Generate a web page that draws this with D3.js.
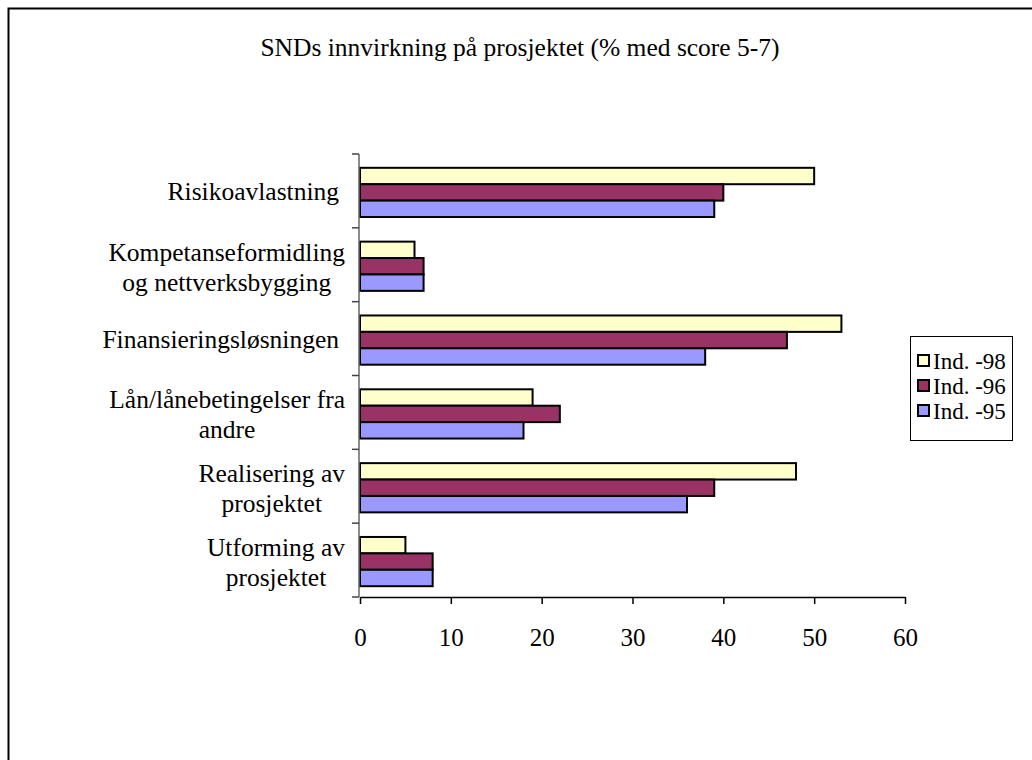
<!DOCTYPE html>
<html>
<head>
<meta charset="utf-8">
<script src="https://cdn.jsdelivr.net/npm/d3@7"></script>
<style>
  body { margin: 0; background: #fff; }
  svg { display: block; font-family: "Liberation Serif", "Times New Roman", serif; }
</style>
</head>
<body>
<div id="chart"></div>
<script>
// categories top to bottom, each label split in lines
const categories = [
  ["Risikoavlastning"],
  ["Kompetanseformidling", "og nettverksbygging"],
  ["Finansieringsløsningen"],
  ["Lån/lånebetingelser fra", "andre"],
  ["Realisering av", "prosjektet"],
  ["Utforming av", "prosjektet"]
];
const seriesNames = ["Ind. -98", "Ind. -96", "Ind. -95"];
const ind98 = [50, 6, 53, 19, 48, 5];
const ind96 = [40, 7, 47, 22, 39, 8];
const ind95 = [39, 7, 38, 18, 36, 8];
const xTicks = [0, 10, 20, 30, 40, 50, 60];
const colors = ["#FFFFCC", "#993366", "#9999FF"];

const width = 1032, height = 760;
const serif = "Liberation Serif, Times New Roman, serif";
const svg = d3.select("#chart").append("svg")
  .attr("width", width)
  .attr("height", height);

// outer frame (top + left edges visible)
svg.append("path")
  .attr("d", "M8.5,760 V8.5 H1032")
  .attr("fill", "none")
  .attr("stroke", "#000")
  .attr("stroke-width", 2);

svg.append("text")
  .attr("x", 520).attr("y", 56)
  .attr("text-anchor", "middle")
  .attr("font-size", 25.5)
  .text("SNDs innvirkning på prosjektet (% med score 5-7)");

const keys = categories.map((c, i) => i);
const x = d3.scaleLinear().domain([0, 60]).range([360, 905]);
const y0 = d3.scaleBand().domain(keys).range([154, 597]);
const y1 = d3.scaleBand().domain(seriesNames).range([0, y0.bandwidth()]).paddingOuter(0.75);
const series = [ind98, ind96, ind95];

// bars
const groups = svg.selectAll("g.cat")
  .data(keys)
  .enter().append("g")
  .attr("class", "cat")
  .attr("transform", d => "translate(0," + (y0(d) + 1.5) + ")");

groups.selectAll("rect")
  .data(i => series.map((s, j) => ({ name: seriesNames[j], value: s[i], color: colors[j] })))
  .enter().append("rect")
  .attr("x", x(0))
  .attr("y", d => y1(d.name))
  .attr("width", d => x(d.value) - x(0))
  .attr("height", y1.bandwidth())
  .attr("fill", d => d.color)
  .attr("stroke", "#000")
  .attr("stroke-width", 2);

// x axis
const xAxis = svg.append("g")
  .attr("transform", "translate(0,597)")
  .call(d3.axisBottom(x).tickValues(xTicks).tickSize(7).tickSizeOuter(0).tickPadding(24));
xAxis.select(".domain").attr("stroke", "#000").attr("stroke-width", 1.5);
xAxis.selectAll(".tick line").attr("stroke", "#000").attr("stroke-width", 1.5);
xAxis.selectAll("text")
  .attr("font-family", serif)
  .attr("font-size", 25)
  .attr("fill", "#000");

// y axis: line + ticks at band boundaries
const bounds = keys.map(k => y0(k)).concat([y0(keys[keys.length - 1]) + y0.bandwidth()]);
svg.append("line")
  .attr("x1", 359).attr("x2", 359)
  .attr("y1", bounds[0]).attr("y2", bounds[bounds.length - 1])
  .attr("stroke", "#666").attr("stroke-width", 1.5);
svg.selectAll("line.ytick")
  .data(bounds)
  .enter().append("line")
  .attr("class", "ytick")
  .attr("x1", 352).attr("x2", 359)
  .attr("y1", d => d).attr("y2", d => d)
  .attr("stroke", "#444").attr("stroke-width", 1.5);

// category labels: block right-aligned, lines centred in the block
const lineH = 30;
keys.forEach(k => {
  const lines = categories[k];
  const cy = y0(k) + y0.bandwidth() / 2;
  const t = svg.append("text")
    .attr("font-size", 25.5)
    .attr("text-anchor", "middle");
  lines.forEach((ln, j) => {
    t.append("tspan")
      .attr("y", cy + (lines.length === 1 ? 9 : 11) + (j - (lines.length - 1) / 2) * lineH)
      .text(ln);
  });
  const w = d3.max(t.selectAll("tspan").nodes(), n => n.getComputedTextLength());
  // single-line labels sit a little left of the two-line blocks
  const right = lines.length === 1 ? 339 : 345;
  t.selectAll("tspan").attr("x", right - w / 2);
});

// legend
const legend = svg.append("g").attr("transform", "translate(910,336)");
legend.append("rect")
  .attr("x", 0.5).attr("y", 0.5)
  .attr("width", 102).attr("height", 104)
  .attr("fill", "#fff")
  .attr("stroke", "#000");
seriesNames.forEach((n, j) => {
  legend.append("rect")
    .attr("x", 8).attr("y", 19 + j * 25)
    .attr("width", 11).attr("height", 11)
    .attr("fill", colors[j])
    .attr("stroke", "#000")
    .attr("stroke-width", 2);
  legend.append("text")
    .attr("x", 23).attr("y", 33 + j * 25)
    .attr("font-size", 23)
    .text(n);
});
</script>
</body>
</html>
